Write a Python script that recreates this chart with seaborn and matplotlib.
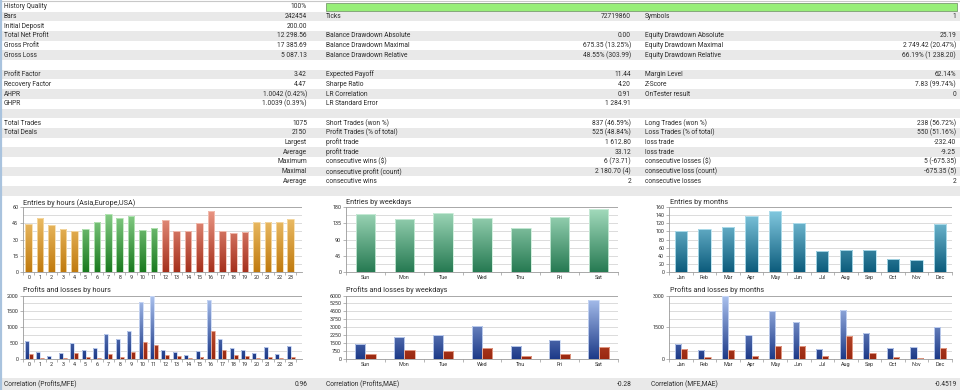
import numpy as np
import pandas as pd
import matplotlib
matplotlib.use("Agg")
import matplotlib.pyplot as plt
import seaborn as sns
from matplotlib.patches import Rectangle
from matplotlib.colors import to_rgb

# ---------------- data ----------------
hours = [str(h) for h in range(24)]
hour_entries = [44, 50, 43, 40, 38, 40, 46, 54, 50, 52, 39, 41, 48, 38, 38, 45, 56, 38, 36, 37, 46, 46, 46, 49]
hour_session = ['Asia'] * 5 + ['Europe'] * 7 + ['USA'] * 8 + ['Asia'] * 4
weekdays = ['Sun', 'Mon', 'Tue', 'Wed', 'Thu', 'Fri', 'Sat']
weekday_entries = [160, 146, 163, 150, 122, 153, 174]
months = ['Jan', 'Feb', 'Mar', 'Apr', 'May', 'Jun', 'Jul', 'Aug', 'Sep', 'Oct', 'Nov', 'Dec']
month_entries = [100, 105, 112, 139, 149, 120, 51, 53, 55, 31, 30, 118]

hour_profits = [568, 221, 95, 179, 505, 284, 337, 779, 632, 884, 1800, 1989, 284, 221, 137, 253, 1874, 632, 337, 295, 200, 368, 158, 410]
hour_losses = [147, 32, 5, 32, 189, 63, 32, 158, 63, 232, 547, 442, 137, 84, 32, 74, 874, 274, 137, 105, 32, 53, 32, 53]
weekday_profits = [1375, 2063, 2250, 3094, 1250, 1781, 5563]
weekday_losses = [469, 875, 719, 1031, 281, 469, 1094]
month_profits = [703, 406, 2990, 1156, 2250, 1750, 469, 2297, 1250, 500, 563, 1516]
month_losses = [469, 94, 422, 156, 609, 594, 125, 1063, 297, 78, 63, 516]

col1_labels = ["History Quality", "Bars", "Initial Deposit", "Total Net Profit", "Gross Profit", "Gross Loss", "",
               "Profit Factor", "Recovery Factor", "AHPR", "GHPR", "", "Total Trades", "Total Deals",
               "", "", "", "", "", ""]
col1_values = ["100%", "242454", "200.00", "12 298.56", "17 385.69", "5 087.13", "",
               "3.42", "4.47", "1.0042 (0.42%)", "1.0039 (0.39%)", "", "1075", "2150",
               "Largest", "Average", "Maximum", "Maximal", "Average", ""]
col2_labels = ["", "Ticks", "", "Balance Drawdown Absolute", "Balance Drawdown Maximal", "Balance Drawdown Relative", "",
               "Expected Payoff", "Sharpe Ratio", "LR Correlation", "LR Standard Error", "",
               "Short Trades (won %)", "Profit Trades (% of total)", "profit trade", "profit trade",
               "consecutive wins ($)", "consecutive profit (count)", "consecutive wins", ""]
col2_values = ["", "72719860", "", "0.00", "675.35 (13.25%)", "48.55% (303.99)", "",
               "11.44", "4.20", "0.91", "1 284.91", "", "837 (46.59%)", "525 (48.84%)",
               "1 612.80", "33.12", "6 (73.71)", "2 180.70 (4)", "2", ""]
col3_labels = ["", "Symbols", "", "Equity Drawdown Absolute", "Equity Drawdown Maximal", "Equity Drawdown Relative", "",
               "Margin Level", "Z-Score", "OnTester result", "", "", "Long Trades (won %)", "Loss Trades (% of total)",
               "loss trade", "loss trade", "consecutive losses ($)", "consecutive loss (count)", "consecutive losses", ""]
col3_values = ["", "1", "", "25.19", "2 749.42 (20.47%)", "66.19% (1 238.20)", "",
               "62.14%", "7.83 (99.74%)", "0", "", "", "238 (56.72%)", "550 (51.16%)",
               "-232.40", "-9.25", "5 (-675.35)", "-675.35 (5)", "2", ""]
corr_labels = ["Correlation (Profits,MFE)", "Correlation (Profits,MAE)", "Correlation (MFE,MAE)"]
corr_values = ["0.96", "-0.28", "-0.4519"]

# ---------------- style ----------------
sns.set_theme(style="white")
plt.rcParams['font.family'] = ['Roboto', 'DejaVu Sans']
TXT = '#2b2b2b'
FS = 4.8

fig = plt.figure(figsize=(9.6, 3.9), dpi=100)
fig.patch.set_facecolor('white')
bg = fig.add_axes([0, 0, 1, 1])
bg.set_xlim(0, 960)
bg.set_ylim(390, 0)
bg.axis('off')

ROW0, PITCH = 6.7, 9.7
for i in range(20):
    if i % 2 == 1:
        bg.add_patch(Rectangle((0, ROW0 + PITCH * i - PITCH / 2), 960, PITCH, color='#e9e9e9', lw=0))
bg.add_patch(Rectangle((0, 378), 960, 12, color='#e9e9e9', lw=0))
bg.plot([0, 960], [0.8, 0.8], color='#c8c8c8', lw=0.8)
bg.plot([0.8, 0.8], [0, 390], color='#a9c3de', lw=1.6)
# history quality bar
bg.add_patch(Rectangle((326, 3.3), 631, 7.4, facecolor='#97ee78', edgecolor='#7a9a70', lw=0.6))

for i in range(20):
    y = ROW0 + PITCH * i
    kw = dict(fontsize=FS, color=TXT, va='center')
    if col1_labels[i]:
        bg.text(4, y, col1_labels[i], ha='left', **kw)
    if col1_values[i]:
        bg.text(307, y, col1_values[i], ha='right', **kw)
    if col2_labels[i]:
        bg.text(326, y, col2_labels[i], ha='left', **kw)
    if col2_values[i]:
        bg.text(631, y, col2_values[i], ha='right', **kw)
    if col3_labels[i]:
        bg.text(645, y, col3_labels[i], ha='left', **kw)
    if col3_values[i]:
        bg.text(956, y, col3_values[i], ha='right', **kw)

for (lx, rx), lab, val in zip([(4, 308), (326, 632), (651, 957)], corr_labels, corr_values):
    bg.text(lx, 384.3, lab, ha='left', va='center', fontsize=FS, color=TXT)
    bg.text(rx, 384.3, val, ha='right', va='center', fontsize=FS, color=TXT)


def add_ax(l, r, t, b):
    return fig.add_axes([l / 960, 1 - b / 390, (r - l) / 960, (b - t) / 390])


def gradient(ax, patch, top, bottom, edge, ymax):
    x, w, h = patch.get_x(), patch.get_width(), patch.get_height()
    if not np.isfinite(h) or h <= 0:
        return
    t = np.linspace(0, 1, 128)[:, None]
    img = (np.array(to_rgb(top)) * (1 - t) + np.array(to_rgb(bottom)) * t)[:, None, :]
    im = ax.imshow(img, extent=[x, x + w, 0, ymax], origin='upper', aspect='auto',
                   zorder=2, interpolation='bilinear')
    im.set_clip_path(patch)
    patch.set_facecolor('none')
    patch.set_edgecolor(edge)
    patch.set_linewidth(0.6)
    patch.set_zorder(3)


def style_ax(ax, ncat, ymax, grid_step, label_step, title, title_x, title_y, xlim_right=None):
    ax.set_facecolor('none')
    for gy in np.arange(grid_step, ymax + 1e-9, grid_step):
        ax.axhline(gy, color='#d6d6d6' if gy < ymax - 1e-9 else '#9a9a9a', lw=0.6, zorder=0)
    ax.set_ylim(0, ymax)
    ax.set_xlim(-0.5, xlim_right if xlim_right is not None else ncat - 0.5)
    ax.set_yticks(np.arange(0, ymax + 1e-9, label_step))
    ax.set_yticklabels([f"{v:g}" for v in np.arange(0, ymax + 1e-9, label_step)])
    ax.set_xticks(np.arange(-0.5, ncat, 1), minor=True)
    ax.tick_params(axis='x', which='major', length=0, labelsize=3.9, pad=2.5, colors=TXT)
    ax.tick_params(axis='x', which='minor', length=2, width=0.5, color='#999999', bottom=True)
    ax.tick_params(axis='y', which='major', length=2, width=0.5, labelsize=3.9, pad=1.5,
                   colors=TXT, left=True, color='#999999')
    ax.set_xlabel('')
    ax.set_ylabel('')
    for s in ['top', 'right']:
        ax.spines[s].set_visible(False)
    for s in ['left', 'bottom']:
        ax.spines[s].set_color('#9a9a9a')
        ax.spines[s].set_linewidth(0.6)
    bg.text(title_x, title_y, title, ha='left', va='center', fontsize=5.2, color=TXT)


SESSION = {'Asia': ('#f4ca78', '#c07a0e', '#f6dcaa'),
           'Europe': ('#92d692', '#1a7a1f', '#bde8bd'),
           'USA': ('#ee9c8a', '#a5301c', '#f4c4b8')}
WEEK = ('#a6ddbf', '#267a52', '#cdeedb')
MONTH = ('#8ad0e6', '#0c5c7c', '#b8e3f0')
PROFIT = ('#adc4f0', '#1d3a88', '#cbd9f5')
LOSS = ('#dc7656', '#9a2810', '#eaa893')

# ---- Entries by hours ----
ax = add_ax(23, 302, 207, 272)
df = pd.DataFrame({'hour': hours, 'entries': hour_entries, 'session': hour_session})
sns.barplot(data=df, x='hour', y='entries', order=hours, color='#cccccc', width=0.58, ax=ax)
for p in list(ax.patches):
    idx = int(round(p.get_x() + p.get_width() / 2))
    gradient(ax, p, *SESSION[hour_session[idx]], ymax=60)
style_ax(ax, 24, 60, 7.5, 15, "Entries by hours (Asia,Europe,USA)", 23, 203, xlim_right=24.0)

# ---- Entries by weekdays ----
ax = add_ax(346, 618, 207, 272)
df = pd.DataFrame({'day': weekdays, 'entries': weekday_entries})
sns.barplot(data=df, x='day', y='entries', order=weekdays, color='#cccccc', width=0.5, ax=ax)
for p in list(ax.patches):
    gradient(ax, p, *WEEK, ymax=180)
style_ax(ax, 7, 180, 22.5, 45, "Entries by weekdays", 346.5, 203)

# ---- Entries by months ----
ax = add_ax(669, 952, 207, 272)
df = pd.DataFrame({'month': months, 'entries': month_entries})
sns.barplot(data=df, x='month', y='entries', order=months, color='#cccccc', width=0.52, ax=ax)
for p in list(ax.patches):
    gradient(ax, p, *MONTH, ymax=160)
style_ax(ax, 12, 160, 20, 20, "Entries by months", 670, 203)


def pl_chart(l, r, cats, profits, losses, ymax, grid_step, label_step, title, tx, width, xr=None):
    ax = add_ax(l, r, 295.5, 359)
    df = pd.DataFrame({'cat': cats * 2, 'value': profits + losses,
                       'kind': ['Profit'] * len(cats) + ['Loss'] * len(cats)})
    sns.barplot(data=df, x='cat', y='value', hue='kind', order=cats, hue_order=['Profit', 'Loss'],
                palette=['#1d3a88', '#9a2810'], width=width, ax=ax, legend=False)
    for cont, cols in zip(ax.containers, [PROFIT, LOSS]):
        for p in cont.patches:
            gradient(ax, p, *cols, ymax=ymax)
    style_ax(ax, len(cats), ymax, grid_step, label_step, title, tx, 290.3, xlim_right=xr)
    return ax


pl_chart(23, 302, hours, hour_profits, hour_losses, 2000, 250, 500, "Profits and losses by hours", 23, 0.7, xr=24.0)
pl_chart(346, 618, weekdays, weekday_profits, weekday_losses, 6000, 750, 750, "Profits and losses by weekdays", 346.5, 0.53)
pl_chart(669, 952, months, month_profits, month_losses, 3000, 375, 1500, "Profits and losses by months", 670, 0.52)

fig.savefig('out.png', dpi=100, facecolor='white')
